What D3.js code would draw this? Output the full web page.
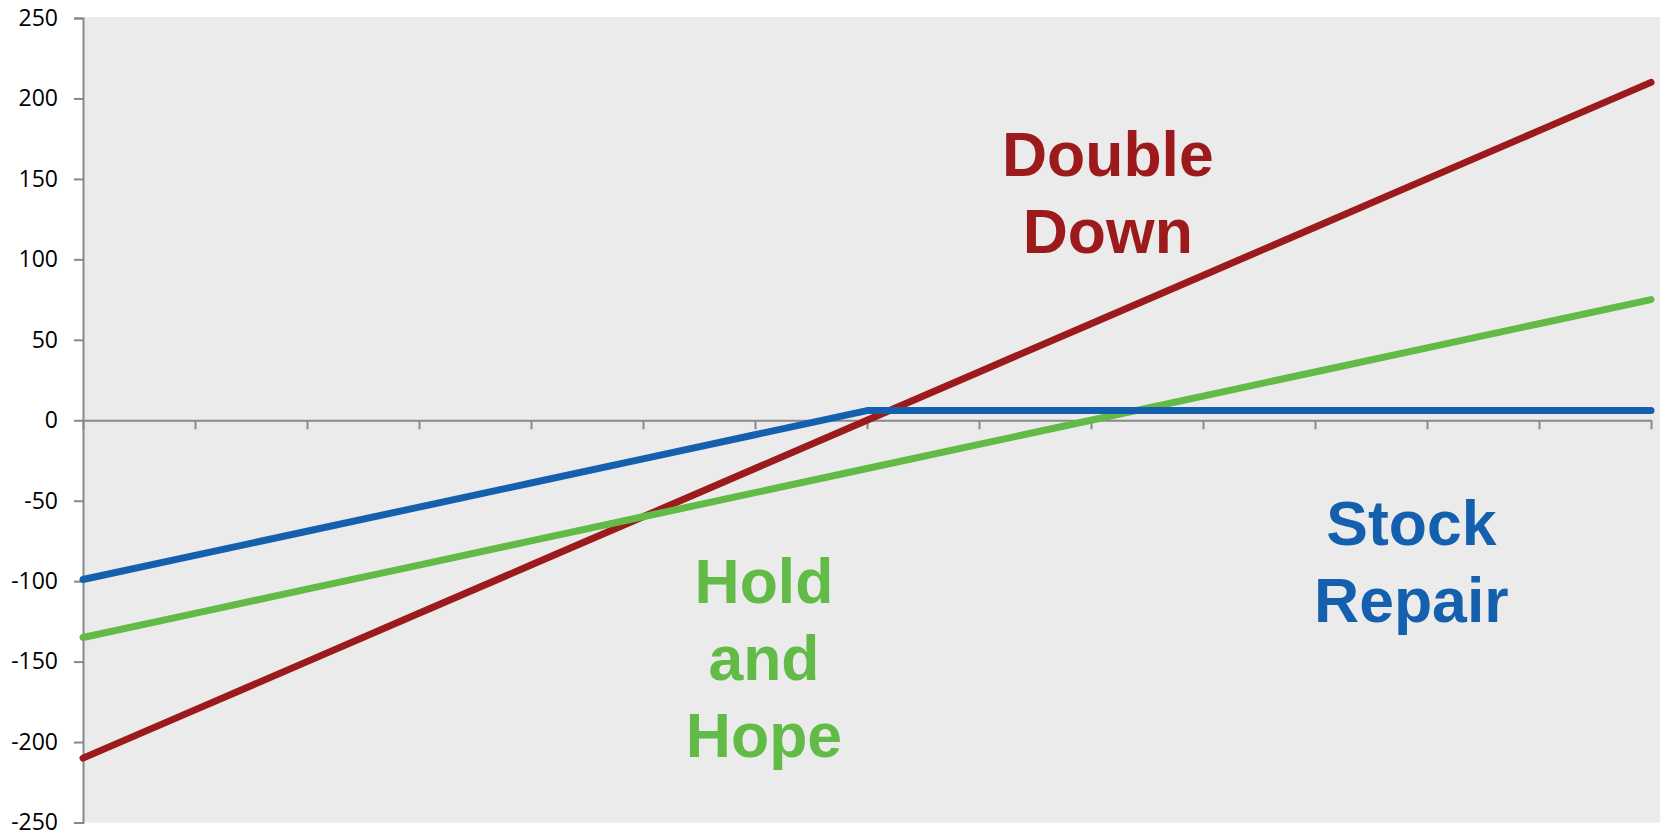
<!DOCTYPE html>
<html>
<head>
<meta charset="utf-8">
<script src="https://cdn.jsdelivr.net/npm/d3@7"></script>
<style>
  html, body { margin: 0; padding: 0; background: #ffffff; }
  svg { display: block; }
</style>
</head>
<body>
<div id="chart"></div>
<script>
// category positions along the x axis (no labels shown)
const categories = [0, 1, 2, 3, 4, 5, 6, 7, 8, 9, 10, 11, 12, 13, 14];

const doubleDown = [-210, -180, -150, -120, -90, -60, -30, 0, 30, 60, 90, 120, 150, 180, 210];
const holdAndHope = [-135, -120, -105, -90, -75, -60, -45, -30, -15, 0, 15, 30, 45, 60, 75];
const stockRepair = [-99, -84, -69, -54, -39, -24, -9, 6, 6, 6, 6, 6, 6, 6, 6];

const yTicks = [250, 200, 150, 100, 50, 0, -50, -100, -150, -200, -250];

const seriesNames = ['Double Down', 'Hold and Hope', 'Stock Repair'];
const labelLines = [['Double', 'Down'], ['Hold', 'and', 'Hope'], ['Stock', 'Repair']];
// where each label block sits, in data units (category index, value of first baseline)
const labelAnchorX = [9.15, 6.08, 11.86];
const labelAnchorY = [151.9, -113.8, -77.6];

const colors = ['#9c1a1c', '#62ba47', '#1560ae'];

const width = 1660, height = 833;
const margin = { top: 18, right: 9, bottom: 10.5, left: 83 };

const svg = d3.select('#chart').append('svg')
    .attr('width', width)
    .attr('height', height);

const x = d3.scaleLinear()
    .domain(d3.extent(categories))
    .range([margin.left, width - margin.right]);

const y = d3.scaleLinear()
    .domain([-250, 250])
    .range([height - margin.bottom, margin.top]);

// plot area background
svg.append('rect')
    .attr('x', margin.left)
    .attr('y', y(250) - 1)
    .attr('width', width - margin.left)
    .attr('height', y(-250) - y(250) + 1)
    .attr('fill', '#ebebeb');

const axisColor = '#888888';

// y axis
const yAxis = svg.append('g')
    .attr('transform', `translate(${margin.left},0)`)
    .call(d3.axisLeft(y).tickValues(yTicks).tickSize(9).tickPadding(16)
        .tickFormat(d => d < 0 ? '-' + Math.abs(d) : d));

yAxis.select('.domain').attr('stroke', axisColor).attr('stroke-width', 2);
yAxis.selectAll('.tick line').attr('stroke', axisColor).attr('stroke-width', 2);
yAxis.selectAll('.tick text')
    .attr('font-family', '"Open Sans", sans-serif')
    .attr('font-size', 23)
    .attr('fill', '#000');

// x axis at zero
const xAxis = svg.append('g')
    .attr('transform', `translate(0,${y(0)})`)
    .call(d3.axisBottom(x).tickValues(categories).tickSize(9).tickSizeOuter(0).tickFormat(''));

xAxis.select('.domain').attr('stroke', axisColor).attr('stroke-width', 2);
xAxis.selectAll('.tick line').attr('stroke', axisColor).attr('stroke-width', 2);

// lines
const line = d3.line()
    .x((d, i) => x(categories[i]))
    .y(d => y(d));

[doubleDown, holdAndHope, stockRepair].forEach((values, k) => {
    svg.append('path')
        .datum(values)
        .attr('fill', 'none')
        .attr('stroke', colors[k])
        .attr('stroke-width', 7)
        .attr('stroke-linejoin', 'round')
        .attr('stroke-linecap', 'round')
        .attr('d', line);
});

// strategy labels
seriesNames.forEach((name, k) => {
    const t = svg.append('text')
        .attr('x', x(labelAnchorX[k]))
        .attr('y', y(labelAnchorY[k]))
        .attr('text-anchor', 'middle')
        .attr('font-family', '"Liberation Sans", Arial, sans-serif')
        .attr('font-weight', 'bold')
        .attr('font-size', 62.5)
        .attr('fill', colors[k]);
    labelLines[k].forEach((s, j) => {
        t.append('tspan')
            .attr('x', x(labelAnchorX[k]))
            .attr('dy', j === 0 ? 0 : 77)
            .text(s);
    });
});
</script>
</body>
</html>
